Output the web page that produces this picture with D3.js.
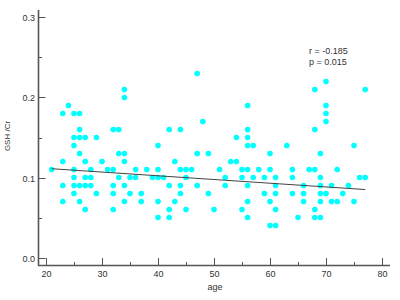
<!DOCTYPE html>
<html><head><meta charset="utf-8">
<script src="https://cdn.jsdelivr.net/npm/d3@7"></script>
<style>body{margin:0;background:#fff}svg{display:block}</style>
</head><body>
<svg id="c" width="400" height="300"></svg>
<script>
// values grouped by GSH/Cr level -> ages observed at that level
const levels = [0.23,0.22,0.21,0.20,0.19,0.18,0.17,0.16,0.15,0.14,0.13,0.12,0.11,0.10,0.09,0.08,0.07,0.06,0.05,0.04];
const agesAtLevel = [
  [47],
  [70],
  [34,68,77],
  [34],
  [24,56,70],
  [23,25,26,70],
  [48,70],
  [26,32,33,42,44,56,68],
  [25,26,27,29,54,56],
  [25,40,56,57,63,75],
  [26,33,34,47,49,60,69],
  [23,27,30,34,43,53,54],
  [21,25,28,31,32,36,38,40,44,45,46,51,55,56,58,60,64,67,68,72],
  [25,27,28,33,35,36,39,40,41,45,52,55,57,59,61,64,69,76,77],
  [23,25,26,27,28,32,34,42,44,47,52,56,61,66,69,71,74],
  [25,29,32,35,37,44,49,59,61,64,66,69,70,73],
  [23,26,34,37,40,43,56,60,66,69,71,72,75],
  [27,32,42,45,50,55,61,68],
  [40,42,56,65,68,69],
  [60,61]
];
const fitAges = [21, 77];
const fitValues = [0.111, 0.085];
const xTicks = [20,30,40,50,60,70,80];
const xMinor = [25,35,45,55,65,75];
const yTicks = [0.0,0.1,0.2,0.3];
const yMinor = [0.05,0.15,0.25];
const statLines = ["r = -0.185", "p = 0.015"];

const points = [];
levels.forEach((v,i)=>agesAtLevel[i].forEach(a=>points.push({age:a, val:v})));

const svg = d3.select("#c");
const x = d3.scaleLinear().domain([20 - 8/5.6, 80 + 8/5.6]).range([38, 390]);
const y = d3.scaleLinear().domain([-0.00925, 0.30925]).range([265, 10]);
const axisCol = "#555", textCol = "#333";
const font = "Liberation Sans, Arial, sans-serif";

// axis lines
svg.append("line").attr("x1",38.5).attr("x2",38.5).attr("y1",y.range()[1]).attr("y2",265.5)
  .attr("stroke",axisCol).attr("stroke-width",1.6);
svg.append("line").attr("x1",38).attr("x2",x.range()[1]).attr("y1",265.5).attr("y2",265.5)
  .attr("stroke",axisCol).attr("stroke-width",1.6);

// y ticks
const yg = svg.append("g");
yTicks.forEach(t=>{
  const yy = Math.round(y(t))+0.5;
  yg.append("line").attr("x1",38.5).attr("x2",45.5).attr("y1",yy).attr("y2",yy).attr("stroke",axisCol);
  yg.append("text").attr("x",35).attr("y",yy).attr("dy","0.35em").attr("text-anchor","end")
    .attr("font-family",font).attr("font-size",9).attr("fill",textCol).text(d3.format(".1f")(t));
});
yMinor.forEach(t=>{
  const yy = Math.round(y(t))+0.5;
  yg.append("line").attr("x1",38.5).attr("x2",42).attr("y1",yy).attr("y2",yy).attr("stroke",axisCol);
});
// x ticks
const xg = svg.append("g");
xTicks.forEach(t=>{
  const xx = Math.round(x(t))+0.5;
  xg.append("line").attr("x1",xx).attr("x2",xx).attr("y1",265.5).attr("y2",258).attr("stroke",axisCol);
  xg.append("text").attr("x",xx).attr("y",276.5).attr("text-anchor","middle")
    .attr("font-family",font).attr("font-size",9).attr("fill",textCol).text(t);
});
xMinor.forEach(t=>{
  const xx = Math.round(x(t))+0.5;
  xg.append("line").attr("x1",xx).attr("x2",xx).attr("y1",265.5).attr("y2",262).attr("stroke",axisCol);
});

// axis titles
svg.append("text").attr("x",215).attr("y",290).attr("text-anchor","middle")
  .attr("font-family",font).attr("font-size",9).attr("fill",textCol).text("age");
svg.append("text").attr("transform","translate(10,136) rotate(-90)").attr("text-anchor","middle")
  .attr("font-family",font).attr("font-size",8).attr("fill",textCol).text("GSH /Cr");

// points
svg.append("g").selectAll("circle").data(points).join("circle")
  .attr("cx",d=>x(d.age)).attr("cy",d=>y(d.val)).attr("r",2.8).attr("fill","#00FFFF");

// fit line
svg.append("line").attr("x1",x(fitAges[0])).attr("y1",y(fitValues[0]))
  .attr("x2",x(fitAges[1])).attr("y2",y(fitValues[1]))
  .attr("stroke","#444").attr("stroke-width",1);

// stats
statLines.forEach((s,i)=>{
  svg.append("text").attr("x",309).attr("y",53.5+i*11).attr("font-family",font).attr("font-size",9)
    .attr("fill",textCol).text(s);
});
</script>
</body></html>
